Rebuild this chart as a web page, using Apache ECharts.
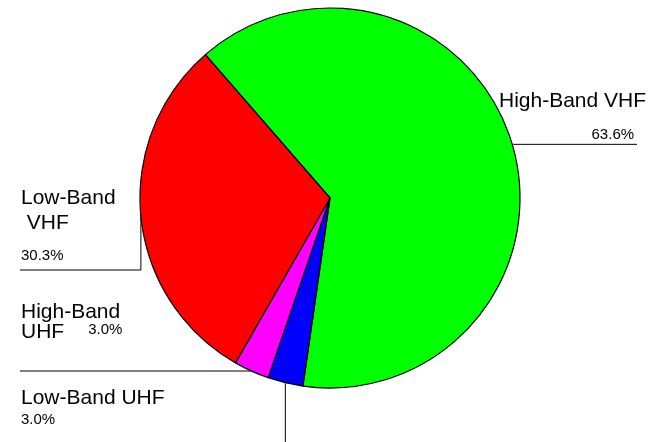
<!DOCTYPE html>
<html>
<head>
<meta charset="utf-8">
<script src="https://cdn.jsdelivr.net/npm/echarts@6/dist/echarts.min.js"></script>
<style>
  html, body { margin: 0; padding: 0; background: #fff; }
  #chart { width: 660px; height: 442px; }
</style>
</head>
<body>
<div id="chart"></div>
<script>
// slice order follows the picture, clockwise from the upper-left boundary
const bands = ["High-Band VHF", "Low-Band UHF", "High-Band UHF", "Low-Band VHF"]
const labelText = ["High-Band VHF", "Low-Band UHF", "High-Band\nUHF", "Low-Band\n VHF"]
const shares = [63.6, 3.0, 3.0, 30.3]
const colors = ["#00ff00", "#0000ff", "#ff00ff", "#ff0000"]

const CENTER = [330, 198]
const RADIUS = 190
const START = 131

const chart = echarts.init(document.getElementById("chart"))

// point on the rim at the middle of a slice
function rimPoint(idx) {
  const total = shares.reduce((a, b) => a + b, 0)
  let before = 0
  for (let i = 0; i < idx; i++) before += shares[i]
  const mid = START - (before + shares[idx] / 2) / total * 360
  const rad = mid * Math.PI / 180
  return [CENTER[0] + RADIUS * Math.cos(rad), CENTER[1] - RADIUS * Math.sin(rad)]
}

function formatLabel(p) {
  const i = p.dataIndex
  const pct = shares[i].toFixed(1) + "%"
  const lines = labelText[i].split("\n")
  if (i === 0) return `{name|${lines[0]}}\n{pctR|${pct}}`
  if (i === 1) return `{name2|${lines[0]}}\n{pct2|${pct}}`
  if (i === 2) return `{name3|${lines[0]}}\n{name3|${lines[1]}}{pctUp|${pct}}`
  return `{name4|${lines[0]}}\n{name4|${lines[1]}}\n{pct4|${pct}}`
}

function layoutLabel(params) {
  const i = params.dataIndex
  const p0 = rimPoint(i)
  if (i === 0) {
    return { x: 499, y: 88, align: "left", verticalAlign: "top",
      labelLinePoints: [p0, [p0[0] + 1, p0[1]], [637, p0[1]]] }
  }
  if (i === 1) {
    return { x: 21, y: 387, align: "left", verticalAlign: "top",
      labelLinePoints: [p0, [p0[0], p0[1] + 1], [p0[0], 442]] }
  }
  if (i === 2) {
    return { x: 21, y: 302, align: "left", verticalAlign: "top",
      labelLinePoints: [p0, [p0[0] - 1, p0[1]], [20, p0[1]]] }
  }
  return { x: 21, y: 186, align: "left", verticalAlign: "top",
    labelLinePoints: [p0, [p0[0], 270], [20, 270]] }
}

const font = "'Liberation Sans', Arial, sans-serif"

chart.setOption({
  backgroundColor: "#ffffff",
  animation: false,
  series: [
    {
      type: "pie",
      center: CENTER,
      radius: RADIUS,
      startAngle: START,
      clockwise: true,
      avoidLabelOverlap: false,
      emphasis: { disabled: true },
      data: bands.map((name, i) => ({
        name,
        value: shares[i],
        itemStyle: { color: colors[i] }
      })),
      itemStyle: { borderColor: "#000", borderWidth: 1.2 },
      label: {
        show: true,
        color: "#000",
        fontFamily: font,
        formatter: formatLabel,
        rich: {
          name: { fontSize: 21, lineHeight: 26, fontFamily: font, color: "#000" },
          pctR: { fontSize: 15, lineHeight: 42, fontFamily: font, color: "#000", align: "right", padding: [0, 12, 0, 0] },
          name2: { fontSize: 21, lineHeight: 22, fontFamily: font, color: "#000" },
          pct2: { fontSize: 15, lineHeight: 22, fontFamily: font, color: "#000" },
          name3: { fontSize: 21, lineHeight: 20, fontFamily: font, color: "#000" },
          pctUp: { fontSize: 15, lineHeight: 8, fontFamily: font, color: "#000", verticalAlign: "top", padding: [0, 0, 0, 24] },
          name4: { fontSize: 21, lineHeight: 25, fontFamily: font, color: "#000" },
          pct4: { fontSize: 15, lineHeight: 40, fontFamily: font, color: "#000" }
        }
      },
      labelLine: {
        show: true,
        lineStyle: { color: "#000", width: 1 }
      },
      labelLayout: layoutLabel
    }
  ]
})
</script>
</body>
</html>
